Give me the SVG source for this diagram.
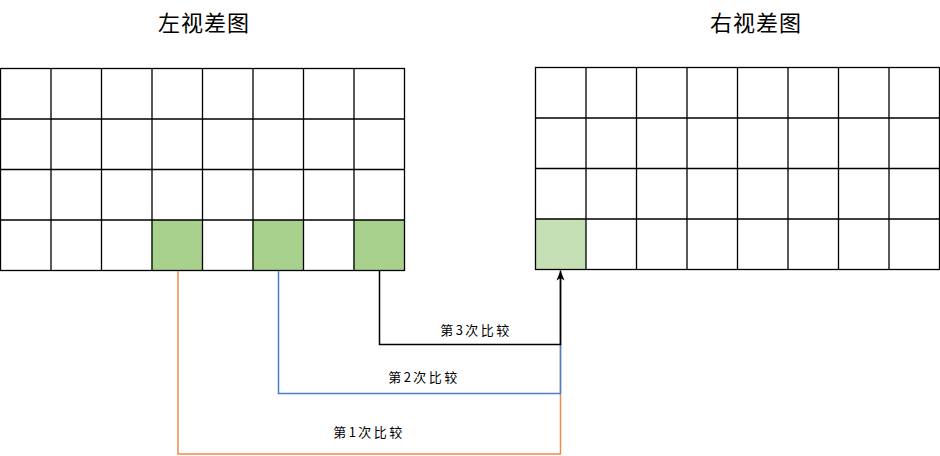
<svg xmlns="http://www.w3.org/2000/svg" width="940" height="456" viewBox="0 0 940 456">
<style>
.gl{fill:#a9d18e}
.gr{fill:#c5e0b4}
.title{font-family:"Noto Sans CJK SC","Noto Sans",sans-serif;font-size:22px;fill:#000;text-anchor:middle;letter-spacing:1px}
.lbl{font-family:"Noto Sans CJK SC","Noto Sans",sans-serif;font-size:13px;fill:#000;text-anchor:middle;letter-spacing:2.5px}
.conn{fill:none;stroke-width:1.5}
</style>
<defs>
<marker id="arr" markerWidth="11" markerHeight="9" refX="10" refY="4.5" orient="auto" markerUnits="userSpaceOnUse" viewBox="0 0 11 9">
<path d="M0,0.5 L10,4.5 L0,8.5 L2.5,4.5 Z" fill="#000"/>
</marker>
</defs>
<g id="title-left"><text class="title" x="204" y="31">左视差图</text></g>
<g id="title-right"><text class="title" x="756" y="31">右视差图</text></g>
<g id="grid-left">
<rect x="151.5" y="220" width="50.5" height="50.5" class="gl"/>
<rect x="252.5" y="220" width="50.5" height="50.5" class="gl"/>
<rect x="353.5" y="220" width="50.5" height="50.5" class="gl"/>
<g fill="none" stroke="#000" stroke-width="1.3">
<rect x="0.5" y="68.5" width="404" height="202"/>
<path d="M0.5,119H404.5M0.5,169.5H404.5M0.5,220H404.5"/>
<path d="M51,68.5V270.5M101.5,68.5V270.5M152,68.5V270.5M202.5,68.5V270.5M253,68.5V270.5M303.5,68.5V270.5M354,68.5V270.5"/>
</g>
</g>
<g id="grid-right">
<rect x="535.5" y="218.5" width="50.5" height="50.5" class="gr"/>
<g fill="none" stroke="#000" stroke-width="1.3">
<rect x="535.5" y="67.5" width="404" height="202"/>
<path d="M535.5,118H939.5M535.5,168.5H939.5M535.5,219H939.5"/>
<path d="M586,67.5V269.5M636.5,67.5V269.5M687,67.5V269.5M737.5,67.5V269.5M788,67.5V269.5M838.5,67.5V269.5M889,67.5V269.5"/>
</g>
</g>
<g id="connectors">
<path class="conn" stroke="#f08a4b" d="M178,271V454H560.5V275"/>
<path class="conn" stroke="#4a7fd8" d="M278.5,271V393.5H560.5V275"/>
<path class="conn" stroke="#000" d="M379.5,271V344.5H560.5V270.5" marker-end="url(#arr)"/>
<text class="lbl" x="476" y="335">第3次比较</text>
<text class="lbl" x="424" y="382">第2次比较</text>
<text class="lbl" x="369" y="437">第1次比较</text>
</g>
</svg>
